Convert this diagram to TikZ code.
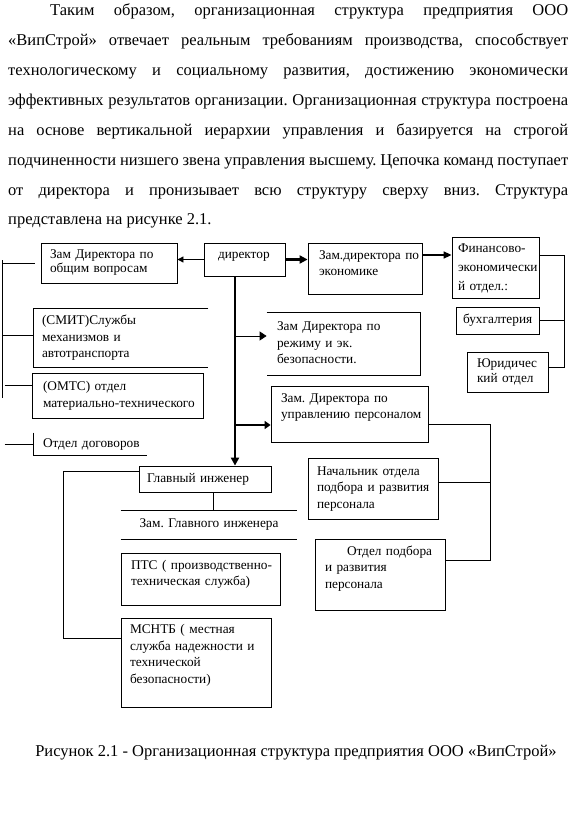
\documentclass[tikz,border=0pt]{standalone}
\usepackage{fontspec}
\setmainfont{Liberation Serif}
\usetikzlibrary{arrows.meta}
\frenchspacing

\newcommand{\boxlines}[1]{\begin{tabular}{@{}l@{}}#1\end{tabular}}

\begin{document}
\begin{tikzpicture}[x=1pt, y=-1pt, line cap=butt, line join=miter,
      every node/.style={inner sep=0pt},
      unit/.style={draw, line width=0.8pt, inner xsep=9pt, inner ysep=0pt,
        font=\fontsize{13.3}{16.5}\selectfont},
      bare/.style={unit, draw=none},
      link/.style={line width=0.8pt},
      arr/.style={link, -{Triangle[length=7pt,width=7pt]}},
      fatarr/.style={line width=2.2pt, -{Triangle[length=8pt,width=8pt]}},
      para/.style={anchor=base west, font=\fontsize{16.5}{30}\selectfont}]
    \useasboundingbox (0,0) rectangle (576,813);
    % ==== text above the chart ====
    \node[para] (par1) at (8,16) {\makebox[560pt][s]{\hspace*{42pt}Таким образом, организационная структура предприятия ООО}};
    \node[para] (par2) at (8,46) {\makebox[560pt][s]{«ВипСтрой» отвечает реальным требованиям производства, способствует}};
    \node[para] (par3) at (8,76) {\makebox[560pt][s]{технологическому и социальному развития, достижению экономически}};
    \node[para] (par4) at (8,106) {\makebox[560pt][s]{эффективных результатов организации. Организационная структура построена}};
    \node[para] (par5) at (8,136) {\makebox[560pt][s]{на основе вертикальной иерархии управления и базируется на строгой}};
    \node[para] (par6) at (8,166) {\makebox[560pt][s]{подчиненности низшего звена управления высшему. Цепочка команд поступает}};
    \node[para] (par7) at (8,196) {\makebox[560pt][s]{от директора и пронизывает всю структуру сверху вниз. Структура}};
    \node[para] (par8) at (8,224) {представлена на рисунке 2.1.};
    % ==== top row ====
    \node[unit, minimum width=81, minimum height=33, inner xsep=14pt, text width=53] (dir)
      at (244.5,259.5) {\boxlines{директор\\[9pt]}};
    \node[unit, minimum width=136, minimum height=40, text width=118,
      font=\fontsize{13.3}{14}\selectfont] (obsh)
      at (109,263) {\boxlines{Зам Директора по\\общим вопросам}};
    \node[unit, minimum width=114, minimum height=51, inner xsep=11pt, text width=92] (econ)
      at (365,268.5) {\boxlines{Зам.директора по\\экономике\\[9pt]}};
    \node[unit, minimum width=87, minimum height=61, inner xsep=6pt, text width=75,
      font=\fontsize{13.3}{19}\selectfont] (fin)
      at (495.5,267.5) {\boxlines{Финансово-\\экономически\\й отдел.:}};
    \node[unit, minimum width=83, minimum height=27, inner xsep=7pt, text width=69] (buh)
      at (497.5,320.5) {\boxlines{бухгалтерия}};
    \node[unit, minimum width=81, minimum height=40, inner xsep=10pt, text width=61,
      font=\fontsize{13.3}{15}\selectfont] (yur)
      at (507.5,372) {\boxlines{Юридичес\\кий отдел}};
    % ==== left column ====
    \node[bare, minimum width=174, minimum height=58, inner xsep=8pt, text width=158] (smit)
      at (121,338) {\boxlines{(СМИТ)Службы\\механизмов и\\автотранспорта}};
    \node[unit, minimum width=171, minimum height=45, inner xsep=11pt, text width=149] (omts)
      at (117.5,395.5) {\boxlines{(ОМТС) отдел\\материально-технического}};
    \node[bare, minimum width=113, minimum height=22, text width=95] (dogov)
      at (90.5,444) {\boxlines{Отдел договоров}};
    % ==== middle column ====
    \node[bare, minimum width=153, minimum height=62, inner xsep=10pt, text width=133] (rezh)
      at (343.5,344) {\boxlines{Зам Директора по\\режиму и эк.\\безопасности.}};
    \node[unit, minimum width=157, minimum height=56, inner xsep=10pt, text width=137] (pers)
      at (349.5,414) {\boxlines{Зам. Директора по\\управлению персоналом\\[14pt]}};
    \node[unit, minimum width=130, minimum height=61, text width=112] (nach)
      at (373,488.5) {\boxlines{Начальник отдела\\подбора и развития\\персонала}};
    \node[unit, minimum width=130, minimum height=71, inner xsep=10pt, text width=110] (otb)
      at (380,574.5) {\boxlines{\hspace*{22pt}Отдел подбора\\и развития\\персонала\\[12pt]}};
    % ==== engineer branch ====
    \node[unit, minimum width=132, minimum height=26, inner xsep=8pt, text width=116] (glav)
      at (205,479) {\boxlines{Главный инженер}};
    \node[bare, minimum width=176, minimum height=28, inner xsep=0pt, text width=176,
      align=center] (zamgl) at (209,525) {Зам. Главного инженера};
    \node[unit, minimum width=159, minimum height=52, inner xsep=10pt, text width=139] (pts)
      at (200.5,579) {\boxlines{ПТС ( производственно-\\техническая служба)\\[10pt]}};
    \node[unit, minimum width=150, minimum height=89, text width=132] (mcntb)
      at (196,662.5) {\boxlines{МСНТБ ( местная\\служба надежности и\\технической\\безопасности)\\[15pt]}};
    % open frames
    \draw[link] (smit.north east) -- (smit.north west) -- (smit.south west) -- (smit.south east);
    \draw[link] (rezh.north west) -- (rezh.north east) -- (rezh.south east) -- (rezh.south west);
    \draw[link] (dogov.north west) -- (dogov.south west) -- (dogov.south east);
    \draw[link] (zamgl.north west) -- (zamgl.north east) (zamgl.south west) -- (zamgl.south east);
    % ==== director links ====
    \draw[link, -{Triangle[length=6pt,width=6pt]}] (dir.west) -- (dir.west -| obsh.east);
    \draw[fatarr] (dir.east) -- (dir.east -| econ.west);
    \coordinate (econout) at ([yshift=13.5pt]econ.east);
    \draw[line width=1.6pt, -{Triangle[length=8pt,width=7pt]}] (econout) -- (econout -| fin.west);
    % vertical trunk and branches
    \coordinate (ttop) at ([xshift=-9.5pt]dir.south);
    \draw[fatarr] (ttop) -- (ttop |- glav.north);
    \coordinate (rezhin) at ([yshift=8pt]rezh.west);
    \draw[arr, -{Triangle[length=7pt,width=9pt]}] (ttop |- rezhin) -- (rezhin);
    \coordinate (persin) at ([yshift=-11pt]pers.west);
    \draw[line width=2pt, -{Triangle[length=6pt,width=8pt]}] (ttop |- persin) -- (persin);
    % left bracket
    \coordinate (ltop) at (2,260);
    \coordinate (lbot) at (2,398);
    \draw[link] (ltop) -- (lbot);
    \draw[link] (ltop |- obsh.west) -- ([xshift=-6pt]obsh.west);
    \coordinate (smitin) at ([yshift=3pt]smit.west);
    \draw[link] (ltop |- smitin) -- (smitin);
    \draw[link] ([xshift=-27pt,yshift=10.5pt]omts.west) -- ([yshift=10.5pt]omts.west);
    \draw[link] ([xshift=-29pt]dogov.west) -- (dogov.west);
    % finance bracket
    \coordinate (fcorner) at (564,255);
    \draw[link] ([yshift=12.5pt]fin.east) -- (fcorner) |- ([yshift=5pt]yur.east);
    \draw[link] (buh.east) -- (buh.east -| fcorner);
    % personnel bracket
    \coordinate (pcorner) at (490,424);
    \draw[link] ([yshift=-10pt]pers.east) -- (pcorner) |- ([yshift=14.5pt]otb.east);
    \coordinate (nachout) at ([yshift=6.5pt]nach.east);
    \draw[link] (nachout) -- (nachout -| pcorner);
    % engineer bracket
    \coordinate (ecorner) at (63,471);
    \draw[link] ([yshift=8pt]glav.west) -- (ecorner) |- ([yshift=24.5pt]mcntb.west);
    \coordinate (glavout) at ([xshift=8pt]glav.south);
    \draw[link] (glavout) -- (glavout |- zamgl.north);
    % ==== caption ====
    \node[anchor=base, font=\fontsize{16.5}{20}\selectfont] (caption) at (296,756)
      {Рисунок 2.1 - Организационная структура предприятия ООО «ВипСтрой»};
  \end{tikzpicture}
\end{document}
